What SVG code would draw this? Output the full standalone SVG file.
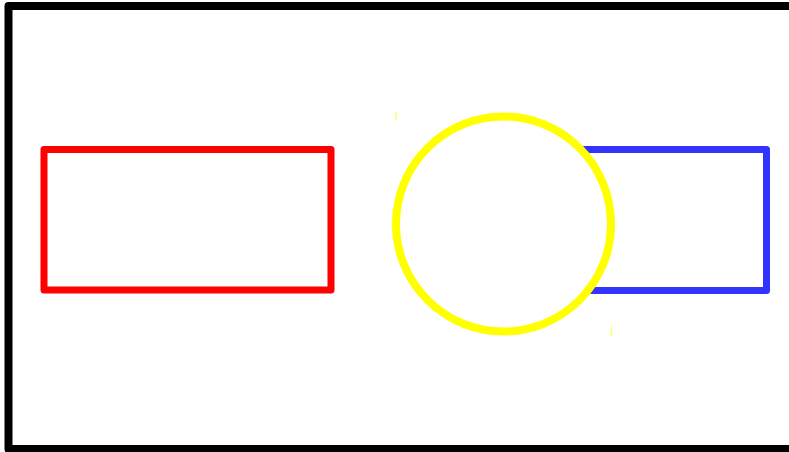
<svg xmlns="http://www.w3.org/2000/svg" width="789" height="452" viewBox="0 0 789 452">
  <style>
    .shape { fill: none; stroke-linejoin: round; }
  </style>
  <rect width="789" height="452" fill="#ffffff"/>
  <g id="frame">
    <rect class="shape" x="8.5" y="6" width="800" height="443" stroke="#000000" stroke-width="8"/>
  </g>
  <g id="red-box">
    <rect class="shape" x="44" y="149.5" width="287" height="140.5" stroke="#ff0000" stroke-width="7"/>
  </g>
  <g id="blue-box">
    <rect class="shape" x="500" y="149.5" width="266.5" height="141" stroke="#3333ff" stroke-width="7"/>
  </g>
  <g id="yellow-circle">
    <circle cx="503.5" cy="224" r="107.5" fill="#ffffff" stroke="#ffff00" stroke-width="8"/>
  </g>
  <g id="connectors">
    <line x1="396" y1="112.5" x2="396" y2="120.5" stroke="#ffff00" stroke-opacity="0.6" stroke-width="1.5"/>
    <line x1="611.5" y1="327" x2="611.5" y2="336" stroke="#ffff00" stroke-opacity="0.6" stroke-width="1.5"/>
  </g>
</svg>
